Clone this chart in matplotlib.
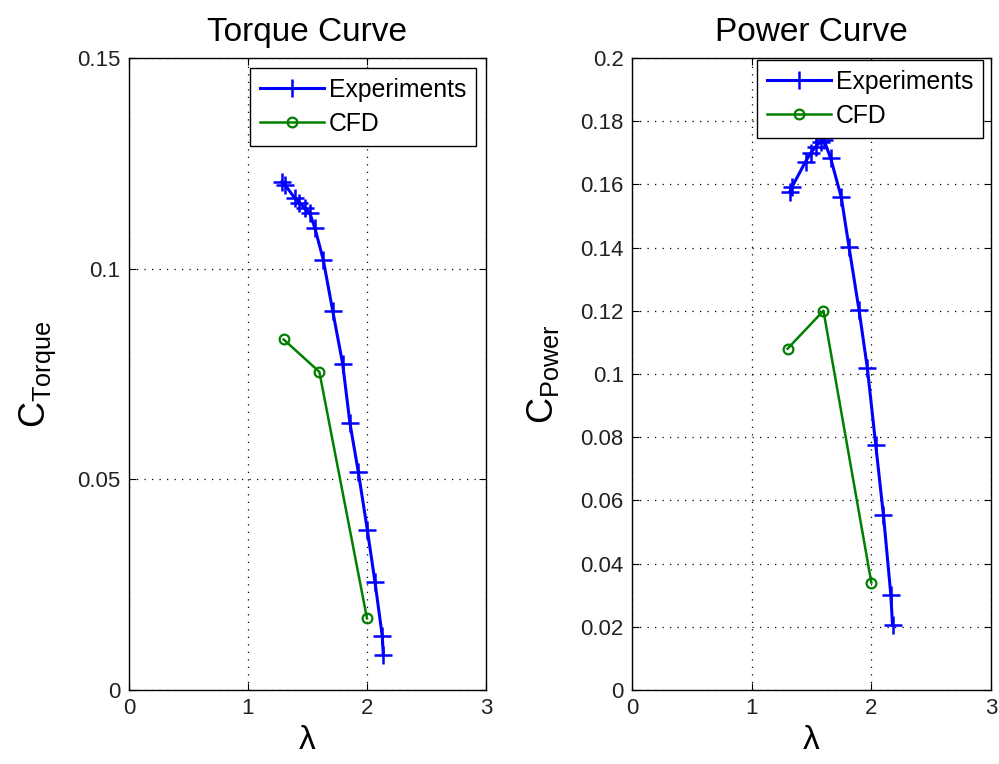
import matplotlib
matplotlib.use("Agg")
import matplotlib.pyplot as plt
from matplotlib.ticker import FixedLocator, FuncFormatter

plt.rcParams['font.family'] = ['Liberation Sans', 'DejaVu Sans']
plt.rcParams['mathtext.fontset'] = 'custom'
plt.rcParams['mathtext.rm'] = 'Liberation Sans'
plt.rcParams['mathtext.it'] = 'Liberation Sans'

# Torque curve data
lam_exp_t = [1.283, 1.311, 1.395, 1.431, 1.479, 1.521, 1.563, 1.633,
             1.712, 1.796, 1.857, 1.927, 2.003, 2.067, 2.129, 2.137]
ct_exp = [0.1206, 0.1199, 0.1167, 0.1157, 0.1143, 0.1131, 0.1096, 0.1021,
          0.0900, 0.0774, 0.0633, 0.0518, 0.0380, 0.0257, 0.0127, 0.0083]
lam_cfd = [1.3, 1.6, 2.0]
ct_cfd = [0.0832, 0.0755, 0.0170]

# Power curve data
lam_exp_p = [1.319, 1.339, 1.450, 1.492, 1.534, 1.576, 1.604, 1.660,
             1.749, 1.813, 1.897, 1.967, 2.037, 2.101, 2.163, 2.177]
cp_exp = [0.1577, 0.1593, 0.1672, 0.1698, 0.1719, 0.1735, 0.1741, 0.1683,
          0.1559, 0.1403, 0.1203, 0.1018, 0.0775, 0.0554, 0.0301, 0.0206]
cp_cfd = [0.108, 0.120, 0.034]

x_ticks = [0, 1, 2, 3]
t_ticks = [0, 0.05, 0.1, 0.15]
p_ticks = [0, 0.02, 0.04, 0.06, 0.08, 0.1, 0.12, 0.14, 0.16, 0.18, 0.2]

fig = plt.figure(figsize=(9.99, 7.64), dpi=100)
ax1 = fig.add_axes([0.129, 0.0969, 0.3575, 0.8272])
ax2 = fig.add_axes([0.6326, 0.0969, 0.3594, 0.8272])

def fmt(v, pos):
    return '%g' % v

panels = [
    (ax1, lam_exp_t, ct_exp, ct_cfd, 'Torque Curve', r'C$_{\mathrm{Torque}}$', t_ticks, 0.15, (0.972, 0.984)),
    (ax2, lam_exp_p, cp_exp, cp_cfd, 'Power Curve', r'C$_{\mathrm{Power}}$', p_ticks, 0.2, (0.978, 0.997)),
]

for ax, lx, ye, yc, title, ylab, yt, ymax, anchor in panels:
    ax.plot(lx, ye, '-+', color='blue', lw=2.2, ms=13, mew=1.8, label='Experiments')
    ax.plot(lam_cfd, yc, '-o', color='green', lw=1.8, ms=7, mew=1.6,
            markerfacecolor='none', label='CFD')
    ax.set_xlim(0, 3)
    ax.set_ylim(0, ymax)
    ax.xaxis.set_major_locator(FixedLocator(x_ticks))
    ax.yaxis.set_major_locator(FixedLocator(yt))
    ax.yaxis.set_major_formatter(FuncFormatter(fmt))
    ax.xaxis.set_major_formatter(FuncFormatter(fmt))
    ax.grid(True, color='black', linestyle=(0, (1, 5)), lw=0.9)
    ax.tick_params(direction='in', top=True, right=True, labelsize=16,
                   length=5, width=0.8, pad=6, labelcolor='#222222')
    for s in ax.spines.values():
        s.set_linewidth(1.0)
    ax.set_title(title, fontsize=24, pad=12)
    ax.set_xlabel('λ', fontsize=24, labelpad=4)
    ax.set_ylabel(ylab, fontsize=26, labelpad=14)
    leg = ax.legend(loc='upper right', bbox_to_anchor=anchor, fontsize=17.8,
                    fancybox=False, framealpha=1, edgecolor='black',
                    borderpad=0.4, labelspacing=0.4, handlelength=2.6,
                    handletextpad=0.2, borderaxespad=0.0)
    leg.get_frame().set_linewidth(1.0)

fig.savefig('out.png', dpi=100)
